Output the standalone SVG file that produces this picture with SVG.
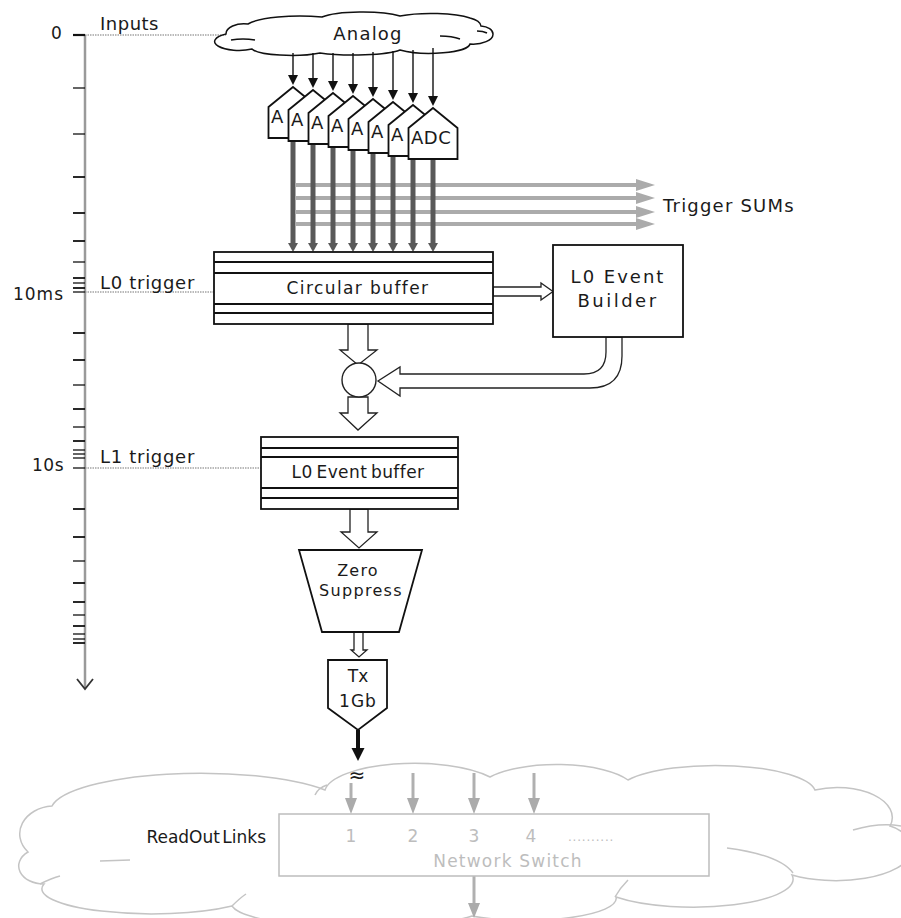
<svg xmlns="http://www.w3.org/2000/svg" width="901" height="918" viewBox="0 0 901 918">
<defs>
<style>
text{font-family:"DejaVu Sans","Liberation Sans",sans-serif;fill:#1a1a1a}
.box{fill:#fff;stroke:#111;stroke-width:1.8}
.thin{fill:none;stroke:#111;stroke-width:1.5}
.hollow{fill:#fff;stroke:#222;stroke-width:1.3}
.tick{stroke:#111;stroke-width:1.8}
.dot{stroke:#777;stroke-width:1.2;stroke-dasharray:1.5 1}
.blk{stroke:#111;stroke-width:1.4}
.dk{stroke:#595959;stroke-width:5}
.lg{stroke:#ababab;stroke-width:4}
.gl{stroke:#b0b0b0;stroke-width:3}
.ahb{fill:#111}
.ahd{fill:#595959}
.ahg{fill:#ababab}
.cloud2{fill:#fff;stroke:#c4c4c4;stroke-width:1.5}
.cl2i{fill:none;stroke:#c4c4c4;stroke-width:1.5}
.lab{font-size:18px}
.adc{font-size:18px;letter-spacing:0.5px}
.grey{fill:#bdbdbd}
</style>
</defs>

<g id="time-axis">
<line x1="85" y1="35" x2="85" y2="688" stroke="#9a9a9a" stroke-width="2.5"/>
<polyline points="77,679 85,689 93,679" fill="none" stroke="#333" stroke-width="1.8"/>
<g class="tick">
<line x1="73" y1="35" x2="85" y2="35" stroke-width="2.2"/>
<line x1="73" y1="88" x2="85" y2="88" stroke-width="1.3"/>
<line x1="73" y1="134" x2="85" y2="134" stroke-width="1.3"/>
<line x1="73" y1="177" x2="85" y2="177"/>
<line x1="73" y1="213" x2="85" y2="213"/>
<line x1="73" y1="241" x2="85" y2="241"/>
<line x1="73" y1="262" x2="85" y2="262" stroke-width="1.3"/>
<line x1="73" y1="278" x2="85" y2="278"/>
<line x1="73" y1="283" x2="85" y2="283" stroke-width="1.3"/>
<line x1="73" y1="288" x2="85" y2="288"/>
<line x1="73" y1="292" x2="85" y2="292" stroke-width="1.3"/>
<line x1="73" y1="333" x2="85" y2="333"/>
<line x1="73" y1="360" x2="85" y2="360"/>
<line x1="73" y1="385" x2="85" y2="385" stroke-width="1.3"/>
<line x1="73" y1="409" x2="85" y2="409"/>
<line x1="73" y1="427" x2="85" y2="427" stroke-width="1.3"/>
<line x1="73" y1="441" x2="85" y2="441"/>
<line x1="73" y1="450" x2="85" y2="450" stroke-width="1.3"/>
<line x1="73" y1="454" x2="85" y2="454" stroke-width="1.3"/>
<line x1="73" y1="458" x2="85" y2="458" stroke-width="1.3"/>
<line x1="73" y1="468" x2="85" y2="468" stroke-width="1.3"/>
<line x1="73" y1="509" x2="85" y2="509"/>
<line x1="73" y1="537" x2="85" y2="537"/>
<line x1="73" y1="561" x2="85" y2="561" stroke-width="1.3"/>
<line x1="73" y1="583" x2="85" y2="583"/>
<line x1="73" y1="602" x2="85" y2="602"/>
<line x1="73" y1="615" x2="85" y2="615" stroke-width="1.3"/>
<line x1="73" y1="626" x2="85" y2="626"/>
<line x1="73" y1="634" x2="85" y2="634" stroke-width="1.3"/>
<line x1="73" y1="639" x2="85" y2="639" stroke-width="1.3"/>
<line x1="73" y1="643" x2="85" y2="643"/>
</g>
<line class="dot" x1="85" y1="35" x2="226" y2="35"/>
<line class="dot" x1="85" y1="292" x2="214" y2="292"/>
<line class="dot" x1="85" y1="468" x2="261" y2="468"/>
<text x="51" y="39" font-size="17">0</text>
<text x="100" y="30" class="lab" letter-spacing="0.5">Inputs</text>
<text x="100" y="289" class="lab" letter-spacing="0.7">L0 trigger</text>
<text x="64" y="300" font-size="17" letter-spacing="1" text-anchor="end">10ms</text>
<text x="100" y="463" class="lab" letter-spacing="0.7">L1 trigger</text>
<text x="64" y="471" font-size="17" letter-spacing="0.5" text-anchor="end">10s</text>
</g>

<g id="analog-cloud">
<path class="thin" d="M226,34 A18,10 0 0 1 248,24 A55,12 0 0 1 322,17 A45,9 0 0 1 400,16 A45,9 0 0 1 470,18 A22,10 0 0 1 481,26 A14,8 0 0 1 493,34 A20,10 0 0 1 470,44 A40,10 0 0 1 400,50 A50,8 0 0 1 320,53 A40,8 0 0 1 252,49 A22,8 0 0 1 226,34 Z"/>
<path class="thin" d="M231,40 Q243,38 255,40 M440,36 Q452,36 460,39 M477,31 Q483,31 487,33" stroke-width="1.2"/>
<text x="368" y="40" class="lab" letter-spacing="1.2" text-anchor="middle">Analog</text>
</g>

<g id="connectors">
<g>
<line class="lg" x1="296" y1="185" x2="638" y2="185"/><polygon class="ahg" points="636,179 655,185 636,191"/>
<line class="lg" x1="296" y1="198" x2="638" y2="198"/><polygon class="ahg" points="636,192 655,198 636,204"/>
<line class="lg" x1="296" y1="212" x2="638" y2="212"/><polygon class="ahg" points="636,206 655,212 636,218"/>
<line class="lg" x1="296" y1="224" x2="638" y2="224"/><polygon class="ahg" points="636,218 655,224 636,230"/>
</g>
<g>
<line class="blk" x1="293" y1="53" x2="293" y2="76"/><polygon class="ahb" points="288,75 298,75 293,85"/>
<line class="blk" x1="313" y1="53" x2="313" y2="79"/><polygon class="ahb" points="308,78 318,78 313,88"/>
<line class="blk" x1="333" y1="53" x2="333" y2="82"/><polygon class="ahb" points="328,81 338,81 333,91"/>
<line class="blk" x1="353" y1="53" x2="353" y2="85"/><polygon class="ahb" points="348,84 358,84 353,94"/>
<line class="blk" x1="373" y1="52" x2="373" y2="88"/><polygon class="ahb" points="368,87 378,87 373,97"/>
<line class="blk" x1="393" y1="51" x2="393" y2="91"/><polygon class="ahb" points="388,90 398,90 393,100"/>
<line class="blk" x1="413" y1="50" x2="413" y2="94"/><polygon class="ahb" points="408,93 418,93 413,103"/>
<line class="blk" x1="433" y1="48" x2="433" y2="97"/><polygon class="ahb" points="428,96 438,96 433,106"/>
</g>
<g>
<line class="dk" x1="293" y1="138" x2="293" y2="244"/><polygon class="ahd" points="288,243 298,243 293,252"/>
<line class="dk" x1="313" y1="141" x2="313" y2="244"/><polygon class="ahd" points="308,243 318,243 313,252"/>
<line class="dk" x1="333" y1="144" x2="333" y2="244"/><polygon class="ahd" points="328,243 338,243 333,252"/>
<line class="dk" x1="353" y1="147" x2="353" y2="244"/><polygon class="ahd" points="348,243 358,243 353,252"/>
<line class="dk" x1="373" y1="150" x2="373" y2="244"/><polygon class="ahd" points="368,243 378,243 373,252"/>
<line class="dk" x1="393" y1="153" x2="393" y2="244"/><polygon class="ahd" points="388,243 398,243 393,252"/>
<line class="dk" x1="413" y1="156" x2="413" y2="244"/><polygon class="ahd" points="408,243 418,243 413,252"/>
<line class="dk" x1="433" y1="159" x2="433" y2="244"/><polygon class="ahd" points="428,243 438,243 433,252"/>
</g>
<path class="hollow" d="M493,287 H541 V283 L553,291.5 L541,300 V296 H493 Z"/>
<path class="hollow" d="M348,324 V350 H340 L358,365 L377,350 H368 V324 Z"/>
<path class="hollow" d="M348,397 V413 H340 L358,430 L377,413 H368 V397 Z"/>
<path class="hollow" d="M350,509 V532 H341 L359,548 L377,532 H368 V509 Z"/>
<path class="hollow" d="M354,632 V650 H351 L359,657 L367,650 H363 V632 Z"/>
<path class="hollow" d="M606,337 V352 Q606,374 584,374 H400 V367 L378,381 L400,396 V388 H590 Q622,388 622,356 V337 Z"/>
<line x1="358" y1="730" x2="358" y2="750" stroke="#111" stroke-width="4"/>
<polygon class="ahb" points="351.5,748 364.5,748 358,761"/>
</g>

<g id="adc-array">
<g id="adc1"><polygon class="box" stroke-width="1.3" points="293,87 317.5,107 317.5,138 268.5,138 268.5,107"/><text class="adc" x="271" y="123">A</text></g>
<g id="adc2"><polygon class="box" stroke-width="1.3" points="313,90 337.5,110 337.5,141 288.5,141 288.5,110"/><text class="adc" x="291" y="126">A</text></g>
<g id="adc3"><polygon class="box" stroke-width="1.3" points="333,93 357.5,113 357.5,144 308.5,144 308.5,113"/><text class="adc" x="311" y="129">A</text></g>
<g id="adc4"><polygon class="box" stroke-width="1.3" points="353,96 377.5,116 377.5,147 328.5,147 328.5,116"/><text class="adc" x="331" y="132">A</text></g>
<g id="adc5"><polygon class="box" stroke-width="1.3" points="373,99 397.5,119 397.5,150 348.5,150 348.5,119"/><text class="adc" x="351" y="135">A</text></g>
<g id="adc6"><polygon class="box" stroke-width="1.3" points="393,102 417.5,122 417.5,153 368.5,153 368.5,122"/><text class="adc" x="371" y="138">A</text></g>
<g id="adc7"><polygon class="box" stroke-width="1.3" points="413,105 437.5,125 437.5,156 388.5,156 388.5,125"/><text class="adc" x="391" y="141">A</text></g>
<g id="adc8"><polygon class="box" stroke-width="1.3" points="433,108 457.5,128 457.5,159 408.5,159 408.5,128"/><text class="adc" x="411" y="144">ADC</text></g>
</g>

<text x="663" y="212" class="lab" letter-spacing="1.2">Trigger SUMs</text>

<g id="circular-buffer">
<rect class="box" x="214" y="252" width="279" height="72"/>
<line class="tick" x1="214" y1="262" x2="493" y2="262"/>
<line class="tick" x1="214" y1="273" x2="493" y2="273"/>
<line class="tick" x1="214" y1="304" x2="493" y2="304"/>
<line class="tick" x1="214" y1="313" x2="493" y2="313"/>
<text x="358" y="294" font-size="17" letter-spacing="1.4" text-anchor="middle">Circular buffer</text>
</g>

<g id="l0-event-builder">
<rect class="box" x="553" y="245" width="130" height="92"/>
<text x="618" y="283" class="lab" letter-spacing="2" text-anchor="middle">L0 Event</text>
<text x="618" y="307" class="lab" letter-spacing="2.5" text-anchor="middle">Builder</text>
</g>

<g id="merge-node">
<circle cx="359" cy="380" r="17" fill="#fff" stroke="#222" stroke-width="1.4"/>
</g>

<g id="l0-event-buffer">
<rect class="box" x="261" y="437" width="197" height="72"/>
<line class="tick" x1="261" y1="448" x2="458" y2="448"/>
<line class="tick" x1="261" y1="457" x2="458" y2="457"/>
<line class="tick" x1="261" y1="488" x2="458" y2="488"/>
<line class="tick" x1="261" y1="498" x2="458" y2="498"/>
<text x="358" y="478" font-size="17" letter-spacing="0.4" word-spacing="-2" text-anchor="middle">L0 Event buffer</text>
</g>

<g id="zero-suppress">
<polygon class="box" stroke-width="1.4" points="299,550 422,550 399,632 322,632"/>
<text x="358" y="576" font-size="16" letter-spacing="1.2" text-anchor="middle">Zero</text>
<text x="361" y="596" font-size="16" letter-spacing="1.3" text-anchor="middle">Suppress</text>
</g>

<g id="tx-1gb">
<polygon class="box" stroke-width="1.3" points="328,660 387,660 387,708 358,730 328,708"/>
<text x="358" y="682" font-size="17" text-anchor="middle">Tx</text>
<text x="358" y="707" font-size="17" letter-spacing="1" text-anchor="middle">1Gb</text>
</g>

<g id="readout-cloud">
<path class="cloud2" d="M28,852 A35,28 0 0 1 52,806 A150,38 0 0 1 325,790 A90,30 0 0 1 490,777 A80,28 0 0 1 628,780 A100,28 0 0 1 815,790 A55,30 0 0 1 890,826 A30,25 0 0 1 910,855 A75,30 0 0 1 792,875 A100,28 0 0 1 616,897 A90,22 0 0 1 472,916 A130,25 0 0 1 232,906 A110,25 0 0 1 44,884 A25,18 0 0 1 28,852 Z"/>
<path class="cl2i" d="M315,795 Q318,788 327,785 M727,848 Q780,855 793,873 M853,830 Q880,822 901,826 M100,861 L130,860 M615,897 Q620,888 628,880 M40,884 Q52,878 60,876 M232,906 Q240,898 246,894"/>
<text x="266" y="843" font-size="17" word-spacing="-3" text-anchor="end">ReadOut Links</text>
<g>
<line class="gl" x1="351" y1="783" x2="351" y2="800"/><polygon class="ahg" points="345,798 357,798 351,814"/>
<line class="gl" x1="413" y1="773" x2="413" y2="800"/><polygon class="ahg" points="407,798 419,798 413,814"/>
<line class="gl" x1="474" y1="773" x2="474" y2="800"/><polygon class="ahg" points="468,798 480,798 474,814"/>
<line class="gl" x1="534" y1="773" x2="534" y2="800"/><polygon class="ahg" points="528,798 540,798 534,814"/>
<line class="gl" x1="474" y1="876" x2="474" y2="905"/><polygon class="ahg" points="468,903 480,903 474,918"/>
</g>
</g>

<g id="link-mark">
<text x="357" y="782" font-size="20" text-anchor="middle">≈</text>
</g>

<g id="network-switch">
<rect x="279" y="814" width="430" height="62" fill="#fff" stroke="#bdbdbd" stroke-width="1.5"/>
<text x="351" y="842" font-size="17" class="grey" text-anchor="middle">1</text>
<text x="413" y="842" font-size="17" class="grey" text-anchor="middle">2</text>
<text x="474" y="842" font-size="17" class="grey" text-anchor="middle">3</text>
<text x="531" y="842" font-size="17" class="grey" text-anchor="middle">4</text>
<text x="568" y="841" font-size="12" class="grey" letter-spacing="0.8">..........</text>
<text x="508" y="867" font-size="17" class="grey" letter-spacing="1.2" text-anchor="middle">Network Switch</text>
</g>
</svg>
